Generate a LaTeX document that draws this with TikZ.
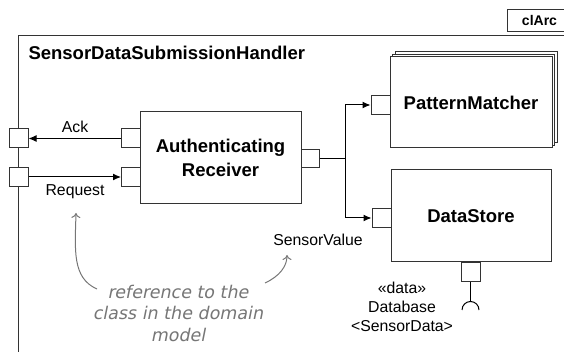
\documentclass[tikz,border=0pt]{standalone}
\usepackage{fontspec}
\setmainfont{Liberation Sans}
\newfontfamily\handfont{DejaVu Sans}[FakeSlant=0.2]
\usetikzlibrary{arrows.meta}
\definecolor{ln}{HTML}{333333}
\definecolor{note}{HTML}{767676}
\begin{document}
\begin{tikzpicture}[x=1pt,y=-1pt,
  line width=1pt,
  port/.style={draw=ln,fill=white,minimum width=19pt,minimum height=19pt,inner sep=0pt},
  comp/.style={draw=ln,fill=white,inner sep=0pt,font=\fontsize{18.5}{24}\selectfont\bfseries,align=center},
  lbl/.style={font=\fontsize{15.8}{19}\selectfont,inner sep=0pt,align=center},
  conn/.style={draw=black,line width=1pt,-{Latex[length=8pt,width=7pt]}},
  notearrow/.style={draw=note,line width=1pt,-{To[length=5pt,width=9pt]}},
]
\useasboundingbox (0,0) rectangle (564,352);
\clip (0,0) rectangle (564,352);
% frame
\draw[ln] (507,10) rectangle (600,32);
\node[inner sep=0pt,font=\fontsize{14}{16}\selectfont\bfseries] (clarc) at (539.5,21) {clArc};
\draw[ln] (18,400) -- (18,36) -- (600,36);
\node[anchor=west,inner sep=0pt,font=\fontsize{18.5}{22}\selectfont\bfseries] (title) at (28,53) {SensorDataSubmissionHandler};
% Authenticating receiver
\node[comp,minimum width=161pt,minimum height=92pt] (ar) at (220.5,158) {Authenticating\\Receiver};
\node[port] (arack) at (131,138.5) {};
\node[port] (arreq) at (131,177) {};
\node[port,minimum width=18pt,minimum height=18pt] (arout) at (310,159) {};
% frame ports
\node[port] (fack) at (18.5,138.5) {};
\node[port] (freq) at (18.5,177) {};
% PatternMatcher stack
\draw[ln,fill=white] (395.6,51.4) rectangle (557.6,142.4);
\draw[ln,fill=white] (392.8,54.2) rectangle (554.8,145.2);
\node[comp,minimum width=162pt,minimum height=91pt] (pm) at (471,102.5) {PatternMatcher};
\node[port] (pmin) at (380.5,105) {};
% DataStore
\node[comp,minimum width=160pt,minimum height=92pt] (ds) at (471,216) {DataStore};
\node[port] (dsin) at (381.5,218) {};
\node[port,minimum height=18pt] (dsout) at (470.5,272) {};
\coordinate (sock) at (470.5,301.5);
\draw[black] (dsout.south) -- (sock);
\draw[black] (462,310) arc[start angle=180,end angle=360,radius=8.5];
% connectors
\draw[conn] (arack.west) -- (fack.east);
\draw[conn] (freq.east) -- (arreq.west);
\coordinate (jn) at (345,159);
\draw[conn] (arout.east) -- (jn) |- (pmin.west);
\draw[conn] (jn) |- (dsin.west);
% labels
\node[lbl] (ack) at (75,127) {Ack};
\node[lbl] (req) at (75,192) {Request};
\node[lbl] (sv) at (318,240) {SensorValue};
\node[lbl] (db) at (402,307) {«data»\\Database\\<SensorData>};
% note
\node[inner sep=0pt,align=center,text=note,font=\handfont\fontsize{17.5}{21.5}\selectfont] (note) at (178,313) {reference to the\\class in the domain\\model};
\coordinate (n1) at (97,289);
\coordinate (n2) at (265,283);
\draw[notearrow] (n1) .. controls (72,278) and (75,250) .. (76,213);
\draw[notearrow] (n2) .. controls (280,276) and (287,266) .. (287,255);
\end{tikzpicture}
\end{document}
